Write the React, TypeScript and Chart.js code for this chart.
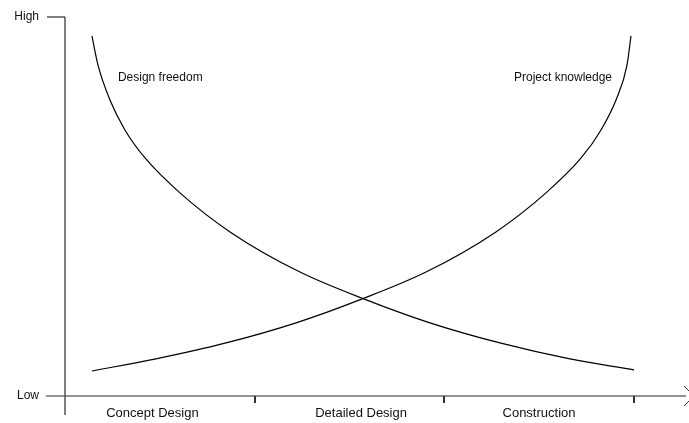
import React, { useEffect, useRef } from "react";
import { Chart, registerables } from "chart.js";

Chart.register(...registerables);

// Curve data (x in phase units: 0 = start of Concept Design, 3 = end of Construction; y in 0..100 Low→High)
const designFreedomX = [0.142, 0.174, 0.237, 0.316, 0.422, 0.606, 0.87, 1.239, 1.592, 1.924, 2.293, 2.662, 3.0];
const designFreedomY = [95.0, 87.3, 78.1, 70.2, 62.8, 53.6, 43.3, 32.7, 25.3, 19.3, 14.0, 9.8, 6.9];

const projectKnowledgeX = [0.142, 0.48, 0.849, 1.218, 1.55, 1.903, 2.272, 2.536, 2.721, 2.826, 2.905, 2.963, 2.984];
const projectKnowledgeY = [6.6, 9.8, 14.0, 19.3, 25.3, 32.7, 43.3, 53.6, 62.8, 70.2, 78.1, 87.3, 95.0];

const phaseLabels = ["Concept Design", "Detailed Design", "Construction"];
const phaseLabelX = [0.461, 1.561, 2.499];
const phaseBoundaries = [1, 2, 3];
const yAxisLabels = ["High", "Low"];
const yAxisLabelValues = [100, 0];
const seriesNames = ["Design freedom", "Project knowledge"];

const X_MAX = 3.274;

const toPoints = (xs: number[], ys: number[]) => xs.map((x, i) => ({ x, y: ys[i] }));

const axesPlugin = {
  id: "customAxes",
  afterDraw(chart: any) {
    const ctx = chart.ctx as CanvasRenderingContext2D;
    const xs = chart.scales.x;
    const ys = chart.scales.y;
    const x0 = xs.getPixelForValue(0);
    const yTop = ys.getPixelForValue(100);
    const yBase = ys.getPixelForValue(0);
    const xEnd = xs.getPixelForValue(X_MAX);
    ctx.save();
    // x axis
    ctx.strokeStyle = "#6e6e6e";
    ctx.lineWidth = 1.5;
    ctx.beginPath();
    ctx.moveTo(x0 - 19, yBase);
    ctx.lineTo(xEnd, yBase);
    ctx.stroke();
    // arrow head
    ctx.lineWidth = 1;
    ctx.strokeStyle = "#333";
    ctx.beginPath();
    ctx.moveTo(xEnd - 2, yBase - 10);
    ctx.lineTo(xEnd + 8, yBase);
    ctx.lineTo(xEnd - 2, yBase + 10);
    ctx.stroke();
    // y axis
    ctx.strokeStyle = "#555";
    ctx.lineWidth = 1.5;
    ctx.beginPath();
    ctx.moveTo(x0, yTop);
    ctx.lineTo(x0, yBase + 19);
    ctx.stroke();
    ctx.beginPath();
    ctx.moveTo(x0 - 18, yTop);
    ctx.lineTo(x0, yTop);
    ctx.stroke();
    // phase ticks
    ctx.strokeStyle = "#333";
    ctx.lineWidth = 2;
    phaseBoundaries.forEach((b) => {
      const px = Math.round(xs.getPixelForValue(b));
      ctx.beginPath();
      ctx.moveTo(px, yBase);
      ctx.lineTo(px, yBase + 7);
      ctx.stroke();
    });
    // texts
    ctx.fillStyle = "#111";
    ctx.textBaseline = "middle";
    ctx.font = "13px 'Liberation Sans', Arial, sans-serif";
    ctx.textAlign = "center";
    phaseLabels.forEach((t, i) => {
      ctx.fillText(t, xs.getPixelForValue(phaseLabelX[i]), ys.getPixelForValue(-4.5));
    });
    ctx.font = "12px 'Liberation Sans', Arial, sans-serif";
    ctx.textAlign = "right";
    yAxisLabels.forEach((t, i) => {
      ctx.fillText(t, xs.getPixelForValue(-0.137), ys.getPixelForValue(yAxisLabelValues[i]));
    });
    ctx.textAlign = "left";
    ctx.fillText(seriesNames[0], xs.getPixelForValue(0.279), ys.getPixelForValue(83.9));
    ctx.textAlign = "right";
    ctx.fillText(seriesNames[1], xs.getPixelForValue(2.884), ys.getPixelForValue(83.9));
    ctx.restore();
  },
};

export default function App() {
  const ref = useRef<HTMLCanvasElement | null>(null);
  useEffect(() => {
    if (!ref.current) return;
    const chart = new Chart(ref.current, {
      type: "line",
      data: {
        datasets: [
          {
            label: seriesNames[0],
            data: toPoints(designFreedomX, designFreedomY),
            borderColor: "#000",
            borderWidth: 1.2,
            pointRadius: 0,
            cubicInterpolationMode: "monotone",
            fill: false,
          },
          {
            label: seriesNames[1],
            data: toPoints(projectKnowledgeX, projectKnowledgeY),
            borderColor: "#000",
            borderWidth: 1.2,
            pointRadius: 0,
            cubicInterpolationMode: "monotone",
            fill: false,
          },
        ],
      },
      options: {
        animation: false,
        responsive: true,
        maintainAspectRatio: false,
        layout: { padding: { left: 65, right: 3, top: 17, bottom: 27 } },
        plugins: { legend: { display: false }, tooltip: { enabled: false } },
        scales: {
          x: { type: "linear", display: false, min: 0, max: X_MAX },
          y: { type: "linear", display: false, min: 0, max: 100 },
        },
      },
      plugins: [axesPlugin],
    } as any);
    return () => chart.destroy();
  }, []);
  return (
    <div style={{ position: "fixed", left: 0, top: 0, width: 689, height: 423, background: "#fff" }}>
      <canvas ref={ref} />
    </div>
  );
}
